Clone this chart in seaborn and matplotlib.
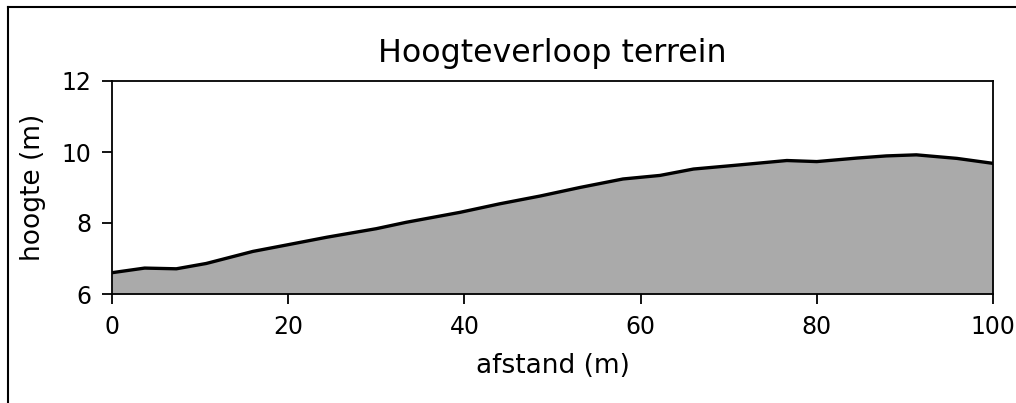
import matplotlib
matplotlib.use("Agg")
import matplotlib.pyplot as plt
from matplotlib.lines import Line2D
import seaborn as sns
import pandas as pd

# distance along the profile (m) and terrain height (m)
afstand = [0, 3.7, 7.3, 10.7, 16.0, 19.8, 24.4, 30.0, 33.4, 39.5, 44.0, 48.6,
           53.1, 58.0, 62.2, 66.0, 70.5, 76.6, 80.0, 84.6, 87.9, 91.3, 95.9, 100]
hoogte = [6.60, 6.73, 6.71, 6.86, 7.20, 7.38, 7.60, 7.84, 8.02, 8.30, 8.54, 8.76,
          9.00, 9.24, 9.34, 9.52, 9.62, 9.76, 9.73, 9.83, 9.89, 9.92, 9.82, 9.68]

title = "Hoogteverloop terrein"
xlabel = "afstand (m)"
ylabel = "hoogte (m)"
xticks = [0, 20, 40, 60, 80, 100]
yticks = [6, 8, 10, 12]

df = pd.DataFrame({"afstand": afstand, "hoogte": hoogte})

plt.rcParams["font.family"] = ["DejaVu Sans"]
fig = plt.figure(figsize=(10.16, 4.03), dpi=100)
ax = fig.add_axes([112 / 1016, 1 - 294 / 403, (993 - 112) / 1016, (294 - 81) / 403])

ax.fill_between(df["afstand"], df["hoogte"], 6, color="#aaaaaa", linewidth=0)
sns.lineplot(data=df, x="afstand", y="hoogte", ax=ax, color="black", linewidth=2.4)

ax.set_xlim(0, 100)
ax.set_ylim(6, 12)
ax.set_xticks(xticks)
ax.set_yticks(yticks)
ax.tick_params(labelsize=17, length=7, width=1.3, pad=8)
for s in ax.spines.values():
    s.set_linewidth(1.3)
ax.set_title(title, fontsize=22.8, pad=13.5)
ax.set_xlabel(xlabel, fontsize=19, labelpad=10)
ax.set_ylabel(ylabel, fontsize=19, labelpad=11)

# outer frame of the figure (top and left edges visible)
fig.add_artist(Line2D([8.3 / 1016, 8.3 / 1016], [-0.1, 1 - 7.3 / 403], transform=fig.transFigure, color="black", linewidth=1.5))
fig.add_artist(Line2D([8.3 / 1016, 1.1], [1 - 7.3 / 403, 1 - 7.3 / 403], transform=fig.transFigure, color="black", linewidth=1.5))

fig.savefig("out.png", dpi=100)
